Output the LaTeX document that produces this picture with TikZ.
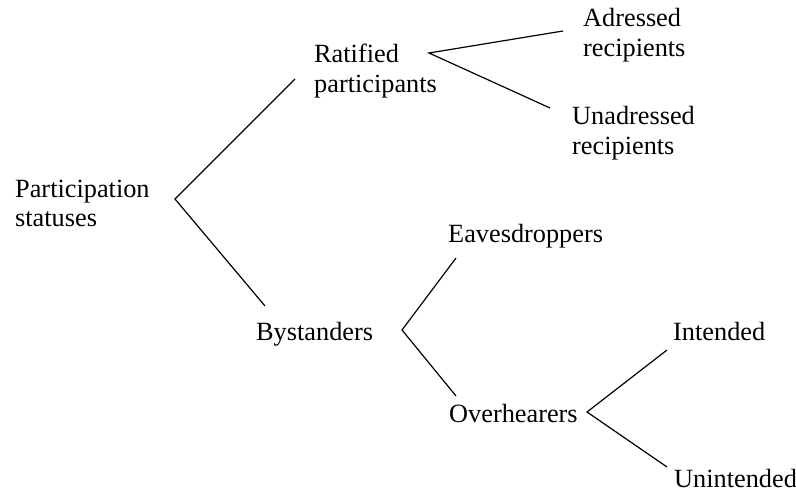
\documentclass[tikz,border=0pt]{standalone}
\usepackage{fontspec}
\setmainfont{Liberation Serif}
\usepackage{tikz}
\tikzset{
  status/.style={anchor=base west, inner sep=0pt, align=left,
                 font=\fontsize{26.3}{30}\selectfont},
  branch/.style={draw=black, line width=1.2pt},
}
\begin{document}
\begin{tikzpicture}[x=1pt,y=-1pt]
  \useasboundingbox (0,0) rectangle (796,492);
  %% labels (base = last line)
  \node[status] (par) at (15,227)  {Participation\\statuses};
  \node[status] (rat) at (314,93)  {Ratified\\participants};
  \node[status] (adr) at (583,57)  {Adressed\\recipients};
  \node[status] (una) at (572,155) {Unadressed\\recipients};
  \node[status] (bys) at (256,340) {Bystanders};
  \node[status] (eav) at (448,243) {Eavesdroppers};
  \node[status] (ove) at (449,422) {Overhearers};
  \node[status] (itd) at (673,340) {Intended};
  \node[status] (uit) at (674,487) {Unintended};
  %% branch points
  \coordinate (par-v) at (175,199);
  \coordinate (par-r) at (295,79);
  \coordinate (par-b) at (265,306);
  \coordinate (rat-v) at (429,53);
  \coordinate (rat-a) at (563,31);
  \coordinate (rat-u) at (550,108);
  \coordinate (bys-v) at (402,330);
  \coordinate (bys-e) at (456,258);
  \coordinate (bys-o) at (456,396);
  \coordinate (ove-v) at (587,412);
  \coordinate (ove-i) at (667,350);
  \coordinate (ove-u) at (667,467);
  %% branches
  \draw[branch] (par-r) -- (par-v) -- (par-b);
  \draw[branch] (rat-a) -- (rat-v) -- (rat-u);
  \draw[branch] (bys-e) -- (bys-v) -- (bys-o);
  \draw[branch] (ove-i) -- (ove-v) -- (ove-u);
\end{tikzpicture}
\end{document}
